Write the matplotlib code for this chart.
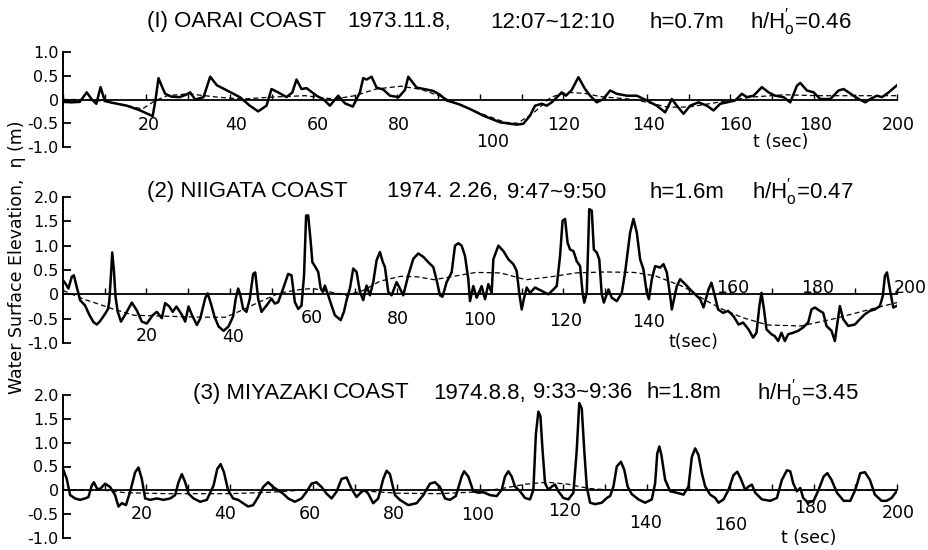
import matplotlib
matplotlib.use("Agg")
import matplotlib.pyplot as plt

# ---------------- data ----------------
# Panel 1: OARAI COAST
t_oarai = [0, 2, 4, 5.7, 6.9, 8, 9, 10, 11.3, 13, 15.3, 18.5, 20.5, 21.5, 22.2, 22.9, 23.6, 24.5, 26, 28,
           29.5, 30.5, 31.7, 33.7, 35.3, 36.9, 40, 42.4, 44.8, 46.8, 48.8, 50, 51.6, 53.6, 55, 56, 57.2, 58.4,
           60.8, 62.5, 64, 66, 67.6, 69.5, 71.2, 72, 72.8, 74, 75.2, 76.8, 78.4, 80.5, 82, 82.8, 84.8, 87.2,
           88.8, 90.4, 92, 95, 97.6, 100.8, 104.8, 108.8, 110.4, 112, 113.2, 114.8, 116, 117.2, 118.8, 119.6,
           120.6, 122, 123.6, 125.2, 126.4, 128, 129.6, 131.2, 132.8, 135.2, 137.6, 140, 142.4, 144.4, 146,
           147.2, 148.8, 150.4, 152.4, 154.4, 156, 157.6, 159.2, 161.2, 162.8, 164, 165.6, 167.6, 169.2, 170.8,
           172.8, 174.4, 176, 176.8, 178.4, 180, 181.6, 184, 186, 187.2, 188.4, 189.6, 190.8, 192.4, 193.6,
           195.2, 196.4, 198, 200]
eta_oarai = [-0.05, -0.06, -0.05, 0.15, 0.0, -0.09, 0.26, -0.02, -0.06, -0.09, -0.13, -0.23, -0.31, -0.35,
             0.0, 0.45, 0.3, 0.12, 0.06, 0.05, 0.1, 0.15, 0.0, 0.05, 0.48, 0.3, 0.16, 0.05, -0.13, -0.25,
             -0.13, 0.22, 0.15, 0.05, 0.15, 0.42, 0.22, 0.24, 0.08, 0.0, -0.13, 0.08, -0.08, -0.15, 0.15,
             0.45, 0.42, 0.48, 0.25, 0.21, 0.08, 0.05, 0.2, 0.48, 0.25, 0.21, 0.18, 0.1, -0.02, -0.1, -0.2,
             -0.34, -0.48, -0.53, -0.51, -0.34, -0.13, -0.09, -0.13, -0.06, 0.08, 0.15, 0.08, 0.2, 0.47,
             0.22, 0.08, -0.06, 0.01, 0.19, 0.12, 0.08, 0.08, -0.02, -0.13, -0.27, 0.01, -0.13, -0.3, -0.13,
             -0.06, -0.13, -0.23, -0.09, -0.06, -0.02, 0.12, 0.05, 0.08, 0.26, 0.15, 0.08, 0.05, -0.06, 0.29,
             0.35, 0.19, 0.15, 0.01, 0.01, 0.19, 0.22, 0.15, 0.08, 0.01, -0.06, 0.01, 0.08, 0.05, 0.15, 0.3]
t_oarai_mean = [0, 5, 9, 15, 19, 22, 25, 30, 37, 43, 50, 58, 65, 70, 75, 81, 86, 91, 96, 101, 106, 109,
                113, 117, 121, 125, 129, 137, 145, 150, 157, 165, 173, 181, 189, 200]
eta_oarai_mean = [0.0, 0.0, -0.03, -0.12, -0.2, -0.03, 0.08, 0.12, 0.05, 0.01, 0.05, 0.08, 0.01, 0.08,
                  0.22, 0.28, 0.21, 0.05, -0.15, -0.32, -0.48, -0.5, -0.27, 0.05, 0.15, 0.13, 0.06, 0.0,
                  -0.16, -0.16, -0.06, 0.05, 0.1, 0.08, 0.08, 0.08]

# Panel 2: NIIGATA COAST
t_niigata = [0, 0.6, 1.3, 2.1, 2.6, 3.4, 4.1, 5.3, 6.3, 7.3, 8.1, 8.9, 10.1, 10.8, 11.1, 11.5, 11.8, 12.2,
             12.6, 13.1, 13.9, 15.1, 16.5, 17.7, 18.9, 20.1, 21.5, 22.5, 23.7, 24.5, 25.5, 26.3, 27.2, 28.5,
             29.3, 30.1, 30.9, 32.1, 32.9, 34.1, 34.7, 35.5, 36.3, 37.3, 38.5, 39.7, 40.8, 41.4, 42, 42.5,
             43.2, 44, 44.8, 45.6, 46.1, 46.8, 47.6, 48.8, 50, 50.8, 51.6, 52.8, 54, 54.8, 55.6, 56.4, 57.2,
             57.8, 58.3, 58.8, 59.4, 59.8, 60.4, 61.2, 61.8, 62.3, 62.8, 63.6, 64.4, 65.2, 66.6, 67.4, 68,
             68.8, 69.6, 70.4, 71.2, 72, 72.8, 73.6, 74.4, 75.2, 76, 76.7, 77.2, 78, 78.8, 80, 80.8, 81.6,
             82.8, 84, 85.2, 86.4, 87.6, 88.8, 89.6, 90.4, 91, 92, 93.2, 94, 94.8, 95.6, 96.4, 97.2, 97.6,
             98.4, 99.2, 100.4, 101.2, 102, 102.8, 103.2, 104.4, 105.6, 106.8, 108, 108.8, 109.4, 110, 110.5,
             111.2, 112, 113.2, 114.8, 116.4, 117.6, 118.4, 119.2, 119.8, 120.4, 121, 121.6, 122.4, 123.2,
             124, 124.6, 125, 125.6, 126.2, 126.8, 127.3, 128, 128.6, 129.2, 129.7, 130.8, 131.6, 132.8, 134,
             134.8, 136, 136.8, 137.6, 138.4, 139.2, 140, 140.5, 141.2, 142, 143.2, 144, 144.8, 145.6, 146,
             147.2, 148, 149.2, 150.4, 151.6, 152.8, 153.6, 154.8, 155.5, 156.3, 157.1, 158.3, 159.5, 160.8,
             162, 163.1, 164.4, 165.5, 166.3, 167, 167.5, 168.1, 168.7, 169.9, 170.7, 171.5, 172.3, 173.1,
             173.9, 175.1, 176.3, 177.5, 178.7, 179.5, 180.3, 181.5, 182.3, 183.1, 184.3, 185.1, 185.6, 186.3,
             187.1, 188.3, 189.9, 191.1, 192.3, 193.5, 194.7, 195.9, 196.6, 197.1, 197.6, 198.3, 199.1, 199.9]
eta_niigata = [0.29, 0.22, 0.12, 0.36, 0.39, 0.12, -0.12, -0.23, -0.42, -0.57, -0.62, -0.55, -0.4, -0.3,
               -0.15, 0.39, 0.86, 0.5, -0.05, -0.35, -0.56, -0.39, -0.17, -0.33, -0.56, -0.6, -0.43, -0.36,
               -0.49, -0.18, -0.25, -0.36, -0.25, -0.42, -0.56, -0.25, -0.42, -0.63, -0.5, -0.08, 0.02, -0.2,
               -0.45, -0.66, -0.75, -0.66, -0.45, -0.1, 0.12, 0.0, -0.3, -0.36, -0.09, 0.42, 0.45, -0.09,
               -0.36, -0.23, -0.09, -0.19, -0.16, 0.12, 0.42, 0.39, -0.16, -0.3, -0.23, 0.39, 1.62, 1.62,
               1.08, 0.66, 0.58, 0.46, 0.12, 0.05, 0.18, -0.02, -0.23, -0.43, -0.53, -0.35, -0.12, 0.12, 0.53,
               0.46, 0.05, -0.12, 0.18, -0.02, 0.25, 0.7, 0.87, 0.66, 0.56, 0.05, -0.02, 0.25, 0.12, -0.02,
               0.39, 0.73, 0.84, 0.77, 0.66, 0.56, 0.29, -0.02, -0.05, 0.25, 0.45, 1.0, 1.05, 1.0, 0.79, 0.31,
               -0.14, 0.17, -0.07, 0.17, -0.1, 0.21, 0.03, 0.72, 1.0, 0.89, 0.72, 0.62, 0.48, 0.03, -0.31,
               -0.1, 0.14, 0.03, 0.14, 0.07, 0.0, 0.1, 0.17, 0.79, 1.51, 1.55, 1.06, 0.92, 0.89, 0.68, 0.58,
               0.03, -0.17, 0.03, 1.75, 1.72, 0.92, 0.86, 0.72, 0.0, -0.17, 0.1, -0.07, -0.14, 0.03, 0.45,
               1.27, 1.55, 1.27, 0.72, 0.51, 0.03, -0.1, 0.31, 0.58, 0.55, 0.62, 0.45, -0.03, -0.31, 0.17,
               0.31, 0.21, 0.1, 0.0, -0.1, -0.27, 0.1, 0.24, -0.03, -0.31, -0.38, -0.34, -0.45, -0.62, -0.58,
               -0.72, -0.89, -0.79, -0.24, 0.03, -0.31, -0.72, -0.82, -0.86, -0.96, -0.79, -0.96, -0.82,
               -0.79, -0.75, -0.68, -0.58, -0.31, -0.27, -0.34, -0.38, -0.65, -0.75, -0.96, -0.65, -0.24,
               -0.51, -0.65, -0.62, -0.51, -0.41, -0.34, -0.31, -0.24, -0.03, 0.38, 0.45, 0.1, -0.27, -0.24]
t_niigata_mean = [0, 5, 12, 17, 25, 33, 39, 42, 47, 52, 57, 60, 64, 68, 72, 76, 81, 85, 89, 93, 99, 105,
                  111, 117, 123, 130, 137, 142, 149, 154, 158, 163, 169, 177, 185, 193, 200]
eta_niigata_mean = [0.08, -0.1, -0.3, -0.43, -0.45, -0.47, -0.47, -0.36, -0.16, 0.03, 0.1, 0.12, 0.05,
                    -0.02, 0.08, 0.27, 0.37, 0.36, 0.3, 0.36, 0.45, 0.44, 0.3, 0.36, 0.44, 0.46, 0.45,
                    0.38, 0.15, -0.12, -0.3, -0.48, -0.63, -0.65, -0.5, -0.32, -0.17]

# Panel 3: MIYAZAKI COAST
t_miyazaki = [0, 0.9, 1.7, 2.9, 4.1, 5.3, 6.1, 6.9, 7.4, 8.2, 8.9, 10.1, 11.3, 12.5, 13.3, 14.1, 15.1, 16.1,
              17.3, 18.1, 18.9, 19.7, 20.9, 22.5, 24.1, 25.7, 26.9, 27.7, 28.5, 29.3, 30.1, 31.3, 32.9, 34.5,
              36.1, 37, 37.8, 38.6, 39.6, 40.8, 42, 43.2, 44.4, 45.6, 46.8, 48, 49.2, 50.4, 51.6, 52.8, 54,
              55.6, 57.2, 58.4, 59.6, 60.8, 62, 63.2, 64.4, 65.6, 66.8, 68, 69.2, 70.4, 71.6, 72.4, 73.2,
              74.4, 75.6, 76.8, 77.6, 78.4, 79.6, 80.8, 82.8, 84.8, 86.4, 88, 89.2, 90.4, 91.6, 92.8, 94.2,
              95.6, 96.2, 97.2, 98.4, 99.6, 100.8, 102.4, 104, 105.2, 106, 106.8, 107.6, 108.4, 109.6, 110.8,
              112, 112.8, 113.4, 114, 114.5, 115, 115.6, 116.4, 117.2, 118, 118.8, 120, 121.2, 122.4, 123.2,
              123.8, 124.4, 125, 125.6, 126.4, 127.6, 129.2, 130.4, 131.2, 132, 132.8, 133.8, 134.6, 135.4,
              136.4, 138, 139.6, 141.2, 142, 142.5, 143, 143.5, 144.4, 145.6, 147.2, 148.8, 150, 150.8, 151.6,
              152.4, 153.2, 154, 155.2, 156.4, 157.2, 158.4, 159.6, 160.8, 161.7, 162.5, 163.6, 164.4, 165.2,
              166, 167.6, 169.6, 171.2, 172.4, 173.6, 174.4, 175.1, 176, 176.8, 177.5, 178.7, 180, 181.2,
              182.4, 183.3, 184.3, 185.6, 187.2, 188.8, 190, 191.2, 192.3, 193.5, 194.7, 196.3, 197.5, 198.7,
              199.9]
eta_miyazaki = [0.45, 0.24, -0.1, -0.17, -0.2, -0.17, -0.14, 0.1, 0.17, 0.03, 0.03, 0.14, 0.07, -0.1, -0.34,
                -0.27, -0.31, -0.03, 0.38, 0.48, 0.24, -0.17, -0.2, -0.17, -0.2, -0.17, -0.1, 0.17, 0.34,
                0.17, -0.07, -0.17, -0.24, -0.2, 0.1, 0.45, 0.55, 0.38, 0.0, -0.17, -0.2, -0.27, -0.34, -0.31,
                -0.14, 0.07, 0.17, 0.07, 0.0, -0.07, -0.17, -0.24, -0.17, -0.03, 0.14, 0.17, 0.07, -0.07,
                -0.17, -0.03, 0.24, 0.27, 0.03, -0.14, -0.03, 0.0, -0.07, -0.27, -0.17, 0.24, 0.41, 0.34,
                -0.1, -0.2, -0.31, -0.27, -0.1, 0.14, 0.17, 0.07, -0.17, -0.2, -0.12, 0.29, 0.4, 0.29, -0.02,
                -0.05, -0.04, -0.1, -0.12, 0.01, 0.29, 0.4, 0.29, 0.08, -0.02, -0.16, -0.19, 0.01, 1.18, 1.65,
                1.55, 0.84, 0.15, 0.01, 0.08, 0.12, -0.02, -0.16, -0.19, -0.05, 0.84, 1.83, 1.72, 0.84, 0.08,
                -0.26, -0.29, -0.26, -0.16, -0.12, 0.08, 0.5, 0.6, 0.43, 0.08, -0.08, -0.19, -0.26, -0.19,
                0.15, 0.77, 0.92, 0.74, 0.22, -0.02, -0.05, -0.09, 0.08, 0.7, 0.88, 0.74, 0.36, 0.08, -0.09,
                -0.16, -0.26, -0.19, 0.01, 0.32, 0.39, 0.25, 0.01, 0.08, 0.12, -0.05, -0.19, -0.22, -0.16,
                0.22, 0.42, 0.4, 0.15, -0.02, 0.05, -0.16, -0.26, -0.22, 0.01, 0.29, 0.36, 0.22, -0.05, -0.22,
                -0.22, 0.01, 0.36, 0.38, 0.22, -0.09, -0.22, -0.22, -0.16, -0.02]
t_miyazaki_mean = [0, 10, 15, 25, 40, 50, 60, 70, 80, 90, 100, 106, 111, 116, 121, 126, 132, 200]
eta_miyazaki_mean = [0.0, 0.0, -0.05, -0.07, -0.07, -0.04, 0.02, 0.0, -0.06, -0.07, -0.03, 0.05, 0.13,
                     0.17, 0.13, 0.04, 0.0, 0.0]

x_labels = ["20", "40", "60", "80", "100", "120", "140", "160", "180", "200"]
y_labels_1 = ["1.0", "0.5", "0", "-0.5", "-1.0"]
y_labels_23 = ["2.0", "1.5", "1.0", "0.5", "0", "-0.5", "-1.0"]

# ---------------- layout ----------------
W, H, DPI = 929, 550, 100
fig = plt.figure(figsize=(W / DPI, H / DPI), dpi=DPI)
fig.patch.set_facecolor("white")
plt.rcParams["font.family"] = ["DejaVu Sans"]
plt.rcParams["mathtext.fontset"] = "custom"
plt.rcParams["mathtext.rm"] = "Liberation Sans"
TITLE_FONT = ["Liberation Sans", "DejaVu Sans"]

X0, X1 = 63, 897


def make_axes(ytop, ybot, ymin, ymax, ylabels):
    ax = fig.add_axes([X0 / W, 1 - ybot / H, (X1 - X0) / W, (ybot - ytop) / H])
    ax.set_xlim(0, 200)
    ax.set_ylim(ymin, ymax)
    ax.patch.set_alpha(0)
    for s in ("top", "right"):
        ax.spines[s].set_visible(False)
    ax.spines["left"].set_linewidth(1.4)
    ax.spines["bottom"].set_position(("data", 0))
    ax.spines["bottom"].set_linewidth(1.3)
    yt = [ymax - 0.5 * i for i in range(len(ylabels))]
    ax.set_yticks(yt)
    ax.set_yticklabels(ylabels)
    ax.tick_params(axis="y", direction="in", length=6, width=1.3, labelsize=11.5, pad=3)
    ax.set_xticks(range(0, 201, 10))
    ax.tick_params(axis="x", direction="in", length=4, width=1.0, labelbottom=False)
    return ax


def put_labels(ax, xs, ys, tsec):
    for lab, x, y in zip(x_labels, xs, ys):
        ax.text(x, y, lab, ha="center", va="center", fontsize=12.5)
    ax.text(tsec[0], tsec[1], tsec[2], ha="center", va="center", fontsize=12.5)


# Panel 1
ax1 = make_axes(52, 147, -1.0, 1.0, y_labels_1)
ax1.plot(t_oarai, eta_oarai, color="black", lw=1.8, solid_joinstyle="round")
ax1.plot(t_oarai_mean, eta_oarai_mean, color="black", lw=0.9, dashes=(4, 2.5))
put_labels(ax1, [20.6, 41.5, 61.2, 80.6, 103, 120.1, 140.5, 161.2, 180.6, 200.2],
           [-0.53] * 4 + [-0.9] + [-0.53] * 5, (172.2, -0.89, "t (sec)"))

# Panel 2
ax2 = make_axes(197, 343, -1.0, 2.0, y_labels_23)
ax2.plot(t_niigata, eta_niigata, color="black", lw=1.8, solid_joinstyle="round")
ax2.plot(t_niigata_mean, eta_niigata_mean, color="black", lw=0.9, dashes=(4, 2.5))
put_labels(ax2, [20.1, 40.8, 59.7, 80.3, 100, 120.6, 140.5, 160.7, 181, 203.1],
           [-0.86, -0.88, -0.49, -0.51, -0.53, -0.55, -0.57, 0.14, 0.14, 0.14], (151.3, -0.97, "t(sec)"))

# Panel 3
ax3 = make_axes(395, 538, -1.0, 2.0, y_labels_23)
ax3.plot(t_miyazaki, eta_miyazaki, color="black", lw=1.8, solid_joinstyle="round")
ax3.plot(t_miyazaki_mean, eta_miyazaki_mean, color="black", lw=0.9, dashes=(4, 2.5))
put_labels(ax3, [18.9, 38.8, 59.2, 79.4, 99.5, 120.4, 139.8, 160.2, 179.4, 200.2],
           [-0.5, -0.5, -0.5, -0.5, -0.52, -0.44, -0.69, -0.73, -0.38, -0.48], (178.9, -0.99, "t (sec)"))

# Titles (pieces placed at their pixel positions)
HO = r"h/H$_{\mathrm{o}}^{\prime}$"
titles = [
    (22, [(147, "(I) OARAI COAST"), (347, "1973.11.8,"), (490, "12:07~12:10"), (650, "h=0.7m"),
          (750, HO + "=0.46")]),
    (192, [(147, "(2) NIIGATA COAST"), (387, "1974. 2.26,"), (507, "9:47~9:50"), (650, "h=1.6m"),
           (752, HO + "=0.47")]),
    (393, [(193, "(3) MIYAZAKI"), (333, "COAST"), (433, "1974.8.8,"), (533, "9:33~9:36"), (647, "h=1.8m"),
           (757, HO + "=3.45")]),
]
for yc, pieces in titles:
    for xl, s in pieces:
        fig.text(xl / W, 1 - yc / H, s, ha="left", va="center", fontsize=16, family=TITLE_FONT)

fig.text(17 / W, 1 - 257 / H, "Water Surface Elevation,  η (m)", rotation=90, ha="center", va="center",
         fontsize=12.5)

fig.savefig("out.png", dpi=DPI, facecolor="white")
